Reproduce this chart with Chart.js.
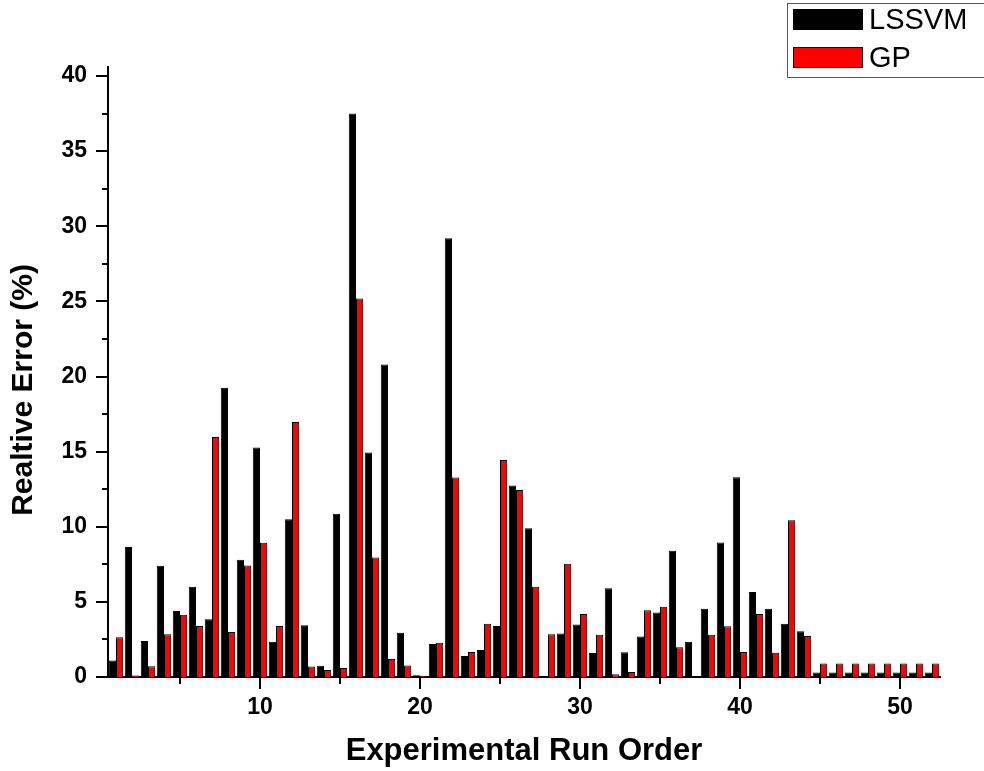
<!DOCTYPE html>
<html>
<head>
<meta charset="utf-8">
<title>Relative Error by Experimental Run</title>
<script src="https://cdn.jsdelivr.net/npm/chart.js@4.4.1/dist/chart.umd.min.js"></script>
<style>
    html, body { margin: 0; padding: 0; background: #fff; }
    #wrap { width: 984px; height: 771px; }
</style>
</head>
<body>
<div id="wrap"><canvas id="errorChart" width="984" height="771"></canvas></div>
<script>
// run order on the x axis
const runOrder = [1, 2, 3, 4, 5, 6, 7, 8, 9, 10, 11, 12, 13, 14, 15, 16, 17, 18, 19, 20,
    21, 22, 23, 24, 25, 26, 27, 28, 29, 30, 31, 32, 33, 34, 35, 36, 37, 38, 39, 40,
    41, 42, 43, 44, 45, 46, 47, 48, 49, 50, 51, 52];

// relative error (%)
const lssvmError = [1.1, 8.65, 2.4, 7.4, 4.4, 6.0, 3.85, 19.25, 7.8, 15.27,
    2.35, 10.5, 3.44, 0.75, 10.87, 37.5, 14.95, 20.8, 2.95, 0.12,
    2.2, 29.2, 1.4, 1.8, 3.4, 12.75, 9.9, 0.05, 2.9, 3.5,
    1.6, 5.9, 1.65, 2.7, 4.3, 8.4, 2.35, 4.55, 8.95, 13.3,
    5.65, 4.55, 3.55, 3.05, 0.3, 0.3, 0.3, 0.3, 0.3, 0.3,
    0.3, 0.3];
const gpError = [2.65, 0.1, 0.72, 2.85, 4.15, 3.4, 15.97, 3.0, 7.42, 8.93,
    3.4, 16.97, 0.7, 0.46, 0.6, 25.2, 7.95, 1.2, 0.77, 0.06,
    2.28, 13.27, 1.66, 3.55, 14.45, 12.45, 6.0, 2.85, 7.53, 4.2,
    2.82, 0.18, 0.33, 4.44, 4.67, 1.98, 0, 2.82, 3.38, 1.67,
    4.2, 1.62, 10.44, 2.73, 0.9, 0.9, 0.9, 0.9, 0.9, 0.9,
    0.9, 0.9];

// axis ticks
const yMajorTicks = [0, 5, 10, 15, 20, 25, 30, 35, 40];
const yMinorTicks = [2.5, 7.5, 12.5, 17.5, 22.5, 27.5, 32.5, 37.5];
const xMajorTicks = [10, 20, 30, 40, 50];
const xMinorTicks = [5, 15, 25, 35, 45];

const yTitle = 'Realtive Error (%)';
const xTitle = 'Experimental Run Order';

const FONT = '"Liberation Sans", Arial, sans-serif';

// outward tick marks, long for major and short for minor
const tickMarks = {
    id: 'tickMarks',
    afterDraw(chart) {
        const ctx = chart.ctx;
        const xs = chart.scales.x;
        const ys = chart.scales.y;
        const area = chart.chartArea;
        ctx.save();
        ctx.strokeStyle = '#000';
        ctx.lineWidth = 2;
        ctx.beginPath();
        yMajorTicks.forEach(v => {
            const py = Math.round(ys.getPixelForValue(v));
            ctx.moveTo(area.left - 12, py);
            ctx.lineTo(area.left, py);
        });
        yMinorTicks.forEach(v => {
            const py = Math.round(ys.getPixelForValue(v));
            ctx.moveTo(area.left - 6, py);
            ctx.lineTo(area.left, py);
        });
        xMajorTicks.forEach(v => {
            const px = Math.round(xs.getPixelForValue(v));
            ctx.moveTo(px, area.bottom);
            ctx.lineTo(px, area.bottom + 12);
        });
        xMinorTicks.forEach(v => {
            const px = Math.round(xs.getPixelForValue(v));
            ctx.moveTo(px, area.bottom);
            ctx.lineTo(px, area.bottom + 7);
        });
        ctx.stroke();

        // y title sits a bit below the middle of the axis in the original
        ctx.translate(24, 390);
        ctx.rotate(-Math.PI / 2);
        ctx.fillStyle = '#000';
        ctx.font = 'bold 30px ' + FONT;
        ctx.textAlign = 'center';
        ctx.textBaseline = 'middle';
        ctx.fillText(yTitle, 0, 0);
        ctx.restore();
    }
};

// boxed legend in the top right corner
const boxLegend = {
    id: 'boxLegend',
    afterDraw(chart) {
        const ctx = chart.ctx;
        ctx.save();
        ctx.strokeStyle = '#555';
        ctx.lineWidth = 1;
        ctx.strokeRect(787.5, 3.5, 220, 74);
        chart.data.datasets.forEach((ds, i) => {
            const top = 9 + i * 38;
            ctx.fillStyle = ds.backgroundColor;
            ctx.fillRect(793, top, 70, 21);
            ctx.strokeStyle = '#000';
            ctx.strokeRect(793.5, top + 0.5, 69, 20);
            ctx.fillStyle = '#000';
            ctx.font = '29px ' + FONT;
            ctx.textBaseline = 'middle';
            ctx.fillText(ds.label, 869, top + 12);
        });
        ctx.restore();
    }
};

const tickFont = { family: FONT, size: 23, weight: 'bold' };
const titleFont = { family: FONT, size: 31, weight: 'bold' };

const ctx = document.getElementById('errorChart').getContext('2d');
new Chart(ctx, {
    type: 'bar',
    data: {
        datasets: [
            {
                label: 'LSSVM',
                data: runOrder.map((r, i) => ({ x: r, y: lssvmError[i] })),
                backgroundColor: '#000000',
                borderColor: '#000000',
                borderWidth: 1
            },
            {
                label: 'GP',
                data: runOrder.map((r, i) => ({ x: r, y: gpError[i] })),
                backgroundColor: '#ff0000',
                borderColor: '#000000',
                borderWidth: 1
            }
        ]
    },
    options: {
        responsive: false,
        animation: false,
        categoryPercentage: 0.9,
        barPercentage: 1.0,
        layout: { padding: { top: 67, right: 44, left: 0, bottom: 0 } },
        plugins: {
            legend: { display: false },
            tooltip: { enabled: false }
        },
        scales: {
            x: {
                type: 'linear',
                min: 0.5,
                max: 52.5,
                offset: false,
                grid: { display: false, drawTicks: false },
                border: { display: true, color: '#000', width: 2 },
                afterBuildTicks: scale => {
                    scale.ticks = xMajorTicks.map(v => ({ value: v }));
                },
                afterFit: scale => { scale.height = 94; },
                ticks: {
                    padding: 17,
                    color: '#000',
                    font: tickFont,
                    maxRotation: 0,
                    autoSkip: false,
                    callback: value => value
                },
                title: {
                    display: true,
                    text: xTitle,
                    color: '#000',
                    font: titleFont,
                    padding: { top: 0, bottom: 1 }
                }
            },
            y: {
                min: 0,
                max: 40.6,
                grid: { display: false, drawTicks: false },
                border: { display: true, color: '#000', width: 2 },
                afterBuildTicks: scale => {
                    scale.ticks = yMajorTicks.map(v => ({ value: v }));
                },
                afterFit: scale => { scale.width = 108; },
                ticks: {
                    padding: 21,
                    color: '#000',
                    font: tickFont,
                    autoSkip: false,
                    callback: value => value
                },
                title: { display: false }
            }
        }
    },
    plugins: [tickMarks, boxLegend]
});
</script>
</body>
</html>
